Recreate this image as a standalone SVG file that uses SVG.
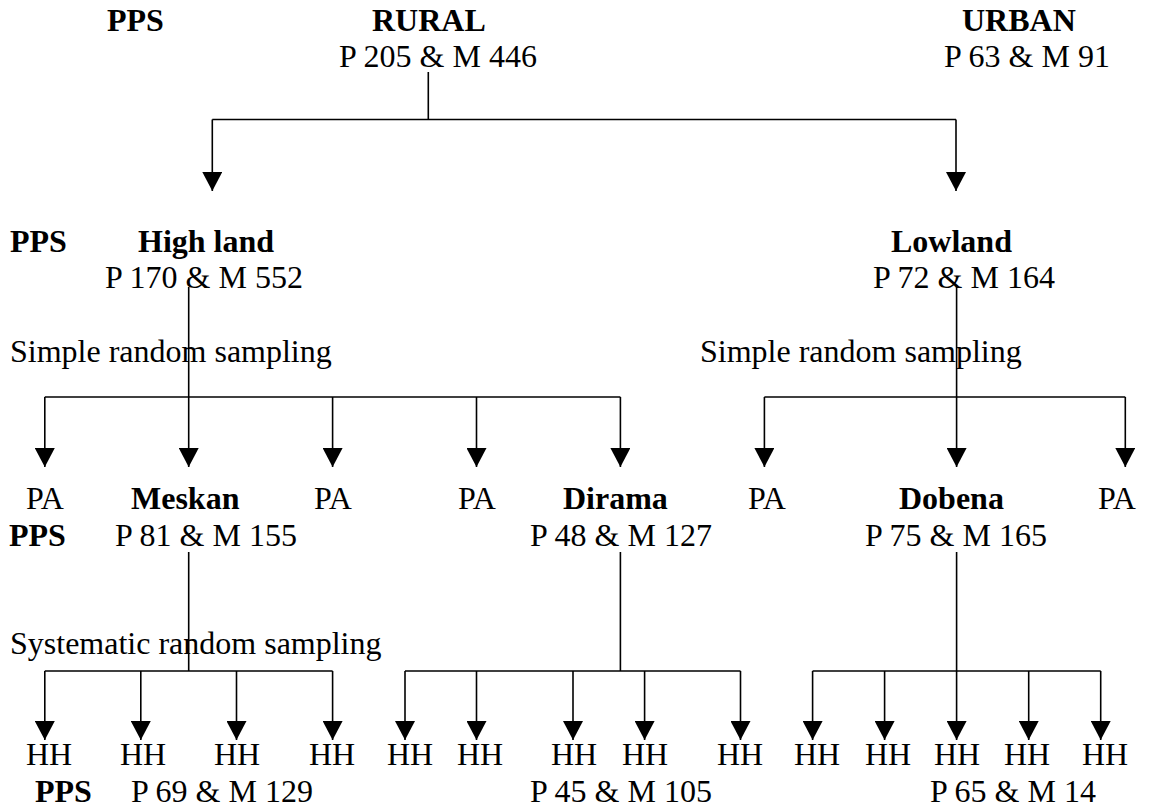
<svg xmlns="http://www.w3.org/2000/svg" width="1151" height="810" viewBox="0 0 1151 810">
<style>
text{font-family:"Liberation Serif","Times New Roman",serif;font-size:32px;fill:#000}
.b{font-weight:bold}
.c{fill:none;stroke:#000;stroke-width:1.6}
.a{marker-end:url(#arr)}
</style>
<defs>
<marker id="arr" viewBox="0 0 19 20" refX="19" refY="10" markerWidth="19" markerHeight="20" markerUnits="userSpaceOnUse" orient="auto">
<path d="M0,0 L19,10 L0,20 z" fill="#000"/>
</marker>
</defs>
<rect width="1151" height="810" fill="#fff"/>
<g id="pps1"><text x="107" y="31" class="b">PPS</text></g>
<g id="rural"><text x="372" y="31" class="b">RURAL</text><text x="339" y="67">P 205 &amp; M 446</text></g>
<g id="urban"><text x="962" y="31" class="b">URBAN</text><text x="944" y="67">P 63 &amp; M 91</text></g>
<g id="pps2"><text x="10" y="252" class="b">PPS</text></g>
<g id="highland"><text x="138" y="252" class="b">High land</text><text x="105" y="288">P 170 &amp; M 552</text></g>
<g id="lowland"><text x="891" y="252" class="b">Lowland</text><text x="873" y="288">P 72 &amp; M 164</text></g>
<g id="srs1"><text x="10" y="362">Simple random sampling</text></g>
<g id="srs2"><text x="700" y="362">Simple random sampling</text></g>
<g id="pa1"><text x="26" y="509">PA</text></g>
<g id="meskan"><text x="131" y="509" class="b">Meskan</text><text x="115" y="546">P 81 &amp; M 155</text></g>
<g id="pa2"><text x="314" y="509">PA</text></g>
<g id="pa3"><text x="458" y="509">PA</text></g>
<g id="dirama"><text x="563" y="509" class="b">Dirama</text><text x="530" y="546">P 48 &amp; M 127</text></g>
<g id="pa4"><text x="748" y="509">PA</text></g>
<g id="dobena"><text x="899" y="509" class="b">Dobena</text><text x="865" y="546">P 75 &amp; M 165</text></g>
<g id="pa5"><text x="1098" y="509">PA</text></g>
<g id="pps3"><text x="9" y="546" class="b">PPS</text></g>
<g id="sys"><text x="10" y="654">Systematic random sampling</text></g>
<g id="hh">
<text x="26" y="765">HH</text><text x="120" y="765">HH</text><text x="214" y="765">HH</text><text x="309" y="765">HH</text>
<text x="387" y="765">HH</text><text x="457" y="765">HH</text><text x="551" y="765">HH</text><text x="622" y="765">HH</text><text x="717" y="765">HH</text>
<text x="794" y="765">HH</text><text x="865" y="765">HH</text><text x="934" y="765">HH</text><text x="1004" y="765">HH</text><text x="1082" y="765">HH</text>
</g>
<g id="pps4"><text x="35" y="802" class="b">PPS</text></g>
<g id="tot1"><text x="131" y="802">P 69 &amp; M 129</text></g>
<g id="tot2"><text x="530" y="802">P 45 &amp; M 105</text></g>
<g id="tot3"><text x="930" y="802">P 65 &amp; M 14</text></g>
<g id="connectors">
<path class="c" d="M428.3,72 V119.5 M212.3,119.5 H956"/>
<path class="c a" d="M212.3,119.5 V191"/>
<path class="c a" d="M956,119.5 V191"/>
<path class="c" d="M44.8,397 H620.4"/>
<path class="c a" d="M188.7,287 V467"/>
<path class="c a" d="M44.8,397 V467"/>
<path class="c a" d="M332.6,397 V467"/>
<path class="c a" d="M476.5,397 V467"/>
<path class="c a" d="M620.4,397 V467"/>
<path class="c" d="M764.4,397 H1125.3"/>
<path class="c a" d="M956.6,285 V467"/>
<path class="c a" d="M764.4,397 V467"/>
<path class="c a" d="M1125.3,397 V467"/>
<path class="c" d="M188.7,552 V671 M44.8,671 H332.6"/>
<path class="c a" d="M44.8,671 V740"/>
<path class="c a" d="M140.8,671 V740"/>
<path class="c a" d="M236.5,671 V740"/>
<path class="c a" d="M332.6,671 V740"/>
<path class="c" d="M620.4,552 V671 M405,671 H740.5"/>
<path class="c a" d="M405,671 V740"/>
<path class="c a" d="M476.5,671 V740"/>
<path class="c a" d="M573,671 V740"/>
<path class="c a" d="M644.6,671 V740"/>
<path class="c a" d="M740.5,671 V740"/>
<path class="c" d="M812.6,671 H1100.7"/>
<path class="c a" d="M956.6,552 V740"/>
<path class="c a" d="M812.6,671 V740"/>
<path class="c a" d="M884.6,671 V740"/>
<path class="c a" d="M1028.7,671 V740"/>
<path class="c a" d="M1100.7,671 V740"/>
</g>
</svg>
